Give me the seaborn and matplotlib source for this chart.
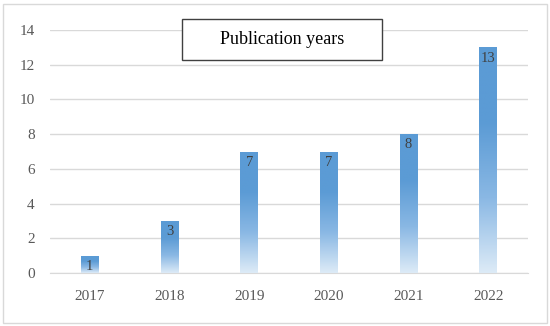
import numpy as np
import pandas as pd
import matplotlib
matplotlib.use('Agg')
import matplotlib.pyplot as plt
import seaborn as sns
from matplotlib.colors import LinearSegmentedColormap
from matplotlib.patches import Rectangle

years = ['2017', '2018', '2019', '2020', '2021', '2022']
counts = [1, 3, 7, 7, 8, 13]
y_ticks = [0, 2, 4, 6, 8, 10, 12, 14]

sns.set_style('white')
plt.rcParams['font.family'] = ['Liberation Serif', 'DejaVu Serif']

df = pd.DataFrame({'year': years, 'count': counts})

fig = plt.figure(figsize=(5.5, 3.26), dpi=100)
ax = fig.add_axes([50 / 550, 1 - 273 / 326, 478 / 550, (273 - 30) / 326])

sns.barplot(data=df, x='year', y='count', color='#5B9BD5', width=0.22,
            saturation=1, ax=ax, zorder=3)

# gradient fill: solid blue at top, fading to pale at the bottom
cmap = LinearSegmentedColormap.from_list('fade', ['#DDEBF7', '#8AB8E4', '#5B9BD5', '#5B9BD5'])
grad = np.linspace(0, 1, 256).reshape(-1, 1)
for bar in ax.patches:
    x0, w, h = bar.get_x(), bar.get_width(), bar.get_height()
    bar.set_facecolor('none')
    bar.set_edgecolor('none')
    im = ax.imshow(grad, cmap=cmap, aspect='auto', origin='lower',
                   extent=[x0, x0 + w, 0, h], zorder=3)
    im.set_clip_path(bar)
    ax.text(x0 + w / 2, h - 0.62, str(int(h)), ha='center', va='center',
            fontsize=10.5, color='#404040', zorder=4)

ax.set_xlim(-0.5, 5.5)
ax.set_ylim(0, 14)
ax.set_yticks(y_ticks)
ax.yaxis.grid(True, color='#D9D9D9', linewidth=1)
ax.set_axisbelow(True)
for s in ['top', 'right', 'left']:
    ax.spines[s].set_visible(False)
ax.spines['bottom'].set_color('#D9D9D9')
ax.tick_params(axis='both', length=0, labelsize=11, labelcolor='#595959')
ax.tick_params(axis='x', pad=12)
ax.tick_params(axis='y', pad=11)
ax.set_xlabel('')
ax.set_ylabel('')

# boxed title
fig.patches.append(Rectangle((182 / 550, 1 - 60 / 326), 200 / 550, 41 / 326,
                             transform=fig.transFigure, facecolor='white',
                             edgecolor='#404040', linewidth=1, zorder=5))
fig.text(282 / 550, 1 - 40 / 326, 'Publication years', ha='center', va='center',
         fontsize=13, color='black', zorder=6)

# outer border
fig.patches.append(Rectangle((3 / 550, 3 / 326), 544 / 550, 319 / 326,
                             transform=fig.transFigure, fill=False,
                             edgecolor='#D9D9D9', linewidth=1))

fig.savefig('out.png', dpi=100)
